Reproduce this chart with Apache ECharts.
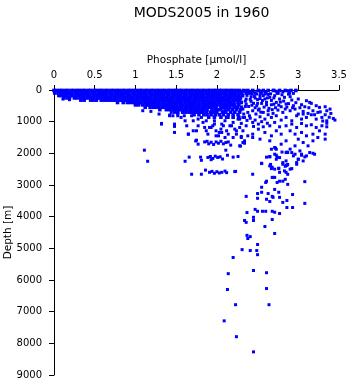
<!DOCTYPE html>
<html>
<head>
<meta charset="utf-8">
<script src="https://cdn.jsdelivr.net/npm/echarts@6/dist/echarts.min.js"></script>
<style>
  html, body { margin: 0; padding: 0; background: #fff; }
  #chart { width: 350px; height: 384px; }
</style>
</head>
<body>
<div id="chart"></div>
<script>
// Phosphate profiles, 1960 casts (MODS2005). Phosphate in µmol/l, depth in m.

// Densely sampled upper layer: one list of phosphate readings per depth level
const layerDepths = [15, 95, 175, 250, 320, 395, 470, 545, 620, 700, 780, 860];
const layerPhosphate = [
  [0.00,0.03,0.07,0.10,0.14,0.17,0.21,0.24,0.28,0.31,0.35,0.38,0.42,0.45,0.49,0.52,0.56,0.59,0.63,0.66,0.70,0.73,0.77,0.80,0.84,0.87,0.91,0.94,0.98,1.01,1.05,1.08,1.12,1.15,1.19,1.22,1.26,1.29,1.33,1.36,1.40,1.43,1.47,1.50,1.54,1.57,1.61,1.64,1.68,1.71,1.75,1.78,1.82,1.85,1.89,1.92,1.96,1.99,2.03,2.06,2.10,2.13,2.17,2.20,2.24,2.28,2.33,2.38,2.44,2.51,2.57,2.63,2.70,2.77,2.84,2.91,2.97],
  [0.01,0.05,0.08,0.12,0.15,0.19,0.22,0.26,0.29,0.33,0.36,0.40,0.43,0.47,0.50,0.54,0.57,0.61,0.64,0.68,0.71,0.75,0.78,0.82,0.85,0.89,0.92,0.96,0.99,1.03,1.06,1.10,1.13,1.17,1.20,1.24,1.27,1.31,1.34,1.38,1.41,1.45,1.48,1.52,1.55,1.59,1.62,1.66,1.69,1.73,1.76,1.80,1.83,1.87,1.90,1.94,1.97,2.01,2.04,2.08,2.11,2.15,2.18,2.22,2.26,2.30,2.36,2.41,2.47,2.54,2.60,2.75,2.89],
  [0.06,0.09,0.13,0.16,0.20,0.23,0.27,0.30,0.34,0.37,0.41,0.44,0.48,0.51,0.55,0.58,0.62,0.65,0.69,0.72,0.76,0.79,0.83,0.86,0.90,0.93,0.97,1.00,1.04,1.07,1.11,1.14,1.18,1.21,1.25,1.28,1.32,1.35,1.39,1.42,1.46,1.49,1.53,1.56,1.60,1.63,1.67,1.70,1.74,1.77,1.81,1.84,1.88,1.91,1.95,1.98,2.02,2.05,2.09,2.12,2.16,2.19,2.23,2.27,2.31],
  [0.12,0.16,0.19,0.25,0.28,0.32,0.35,0.39,0.42,0.46,0.49,0.53,0.56,0.60,0.63,0.67,0.70,0.74,0.77,0.81,0.84,0.88,0.91,0.95,0.98,1.02,1.05,1.09,1.12,1.16,1.19,1.23,1.26,1.30,1.33,1.37,1.40,1.44,1.47,1.51,1.54,1.58,1.61,1.65,1.68,1.72,1.75,1.79,1.82,1.86,1.89,1.93,1.96,2.00,2.03,2.07,2.10,2.14,2.17,2.21,2.25,2.29],
  [0.33,0.37,0.45,0.48,0.52,0.58,0.62,0.66,0.69,0.73,0.76,0.80,0.83,0.87,0.90,0.94,0.97,1.01,1.04,1.08,1.11,1.15,1.18,1.22,1.25,1.29,1.32,1.36,1.39,1.43,1.46,1.50,1.53,1.57,1.60,1.64,1.67,1.71,1.74,1.78,1.81,1.85,1.88,1.92,1.95,1.99,2.02,2.06,2.09,2.13,2.16,2.20,2.24,2.28],
  [0.78,0.85,0.90,0.94,0.98,1.01,1.05,1.08,1.12,1.15,1.19,1.22,1.26,1.29,1.33,1.36,1.40,1.43,1.47,1.50,1.54,1.57,1.61,1.64,1.68,1.71,1.75,1.78,1.82,1.85,1.89,1.92,1.96,1.99,2.03,2.06,2.10,2.13,2.17,2.21,2.26,2.30],
  [1.00,1.04,1.09,1.13,1.16,1.20,1.23,1.27,1.30,1.34,1.37,1.41,1.44,1.48,1.51,1.55,1.58,1.62,1.65,1.69,1.72,1.76,1.79,1.83,1.86,1.90,1.93,1.97,2.00,2.04,2.07,2.11,2.14,2.18,2.22,2.27],
  [1.12,1.18,1.22,1.26,1.29,1.33,1.36,1.40,1.43,1.47,1.50,1.54,1.57,1.61,1.64,1.68,1.71,1.75,1.78,1.82,1.85,1.89,1.92,1.96,1.99,2.05,2.08,2.12,2.16,2.21,2.25,2.30],
  [1.30,1.38,1.42,1.46,1.49,1.53,1.56,1.60,1.63,1.67,1.70,1.74,1.77,1.81,1.84,1.88,1.94,1.98,2.01,2.05,2.10,2.14,2.19,2.24,2.29],
  [1.52,1.58,1.62,1.66,1.69,1.73,1.76,1.80,1.83,1.87,1.92,1.96,2.00,2.07,2.11,2.17,2.22,2.28],
  [1.72,1.78,1.84,1.88,1.93,1.98,2.03,2.08,2.14,2.20,2.26],
  [1.90,1.97,2.05,2.12,2.20,2.27]
];

// Scattered readings below the dense layer, low/mid phosphate [phosphate, depth]
const upperScatter = [
  [0.11,285],[0.19,306],[1.09,654],[1.19,675],[1.29,760],[1.32,1077],[1.42,813],[1.48,707],
  [1.48,1098],[1.48,1150],[1.48,1340],[1.52,813],[1.11,1900],[1.15,2250],
  [1.42,792],[1.32,1056],[1.48,1077],[1.63,1130],[1.65,1394],[1.56,866],[1.71,972],[1.75,1288],
  [1.75,1584],[1.77,1130],[1.81,866],[1.83,1024],[1.87,972],[1.89,1394],[1.93,1183],[1.99,1288],
  [2.06,1341],[2.14,1394],[2.16,1130],[2.20,1024],[2.22,1235],[2.28,1183],[2.30,1500],[1.97,972],
  [2.06,1077],[2.14,866],[2.26,919],[2.32,866],[2.02,1447],[2.10,1500],[2.24,1394],[2.20,1500],
  [1.61,972],[1.69,813],[1.44,707],[1.46,813],[1.52,760],[1.60,813],[1.65,1393],[1.71,1288],
  [1.77,918],[1.85,1182],[1.87,1288],[1.91,1182],[1.95,1129],[1.97,1076],[1.99,1446],[2.03,1341],
  [2.05,1235],[2.08,1129],[2.10,971],[2.12,1288],[2.18,1129],[2.24,1288],[2.30,1467],[2.34,1605]
];

// High-phosphate readings, upper 2000 m [phosphate, depth]
const highScatter = [
  [2.30,74],[2.34,21],[2.38,106],[2.44,42],[2.49,127],[2.55,74],[2.59,127],[2.69,10],[2.87,21],[2.94,106],
  [2.28,232],[2.32,180],[2.36,285],[2.42,211],[2.47,254],[2.53,180],[2.59,285],[2.65,232],[2.71,180],
  [2.77,285],[2.83,232],[2.90,211],[2.92,317],[3.00,285],[3.10,338],[3.14,391],
  [2.30,391],[2.36,444],[2.42,359],[2.49,496],[2.55,422],[2.61,391],[2.67,465],[2.73,391],[2.79,528],
  [2.85,444],[2.94,496],[3.04,465],[3.08,528],[3.16,422],[3.22,496],[3.26,549],[3.33,528],[3.39,602],
  [2.32,602],[2.38,708],[2.44,655],[2.51,634],[2.57,708],[2.63,655],[2.69,739],[2.75,634],[2.81,708],
  [2.90,655],[2.96,602],[3.00,760],[3.06,676],[3.12,739],[3.18,655],[3.24,708],[3.33,782],[3.35,655],[3.43,898],
  [2.28,919],[2.34,866],[2.40,813],[2.47,950],[2.53,845],[2.59,919],[2.67,866],[2.73,813],[2.79,950],
  [2.85,866],[2.92,972],[2.98,813],[3.04,919],[3.10,866],[3.16,782],[3.22,919],[3.29,866],[3.35,972],[3.45,950],
  [2.30,1056],[2.36,1130],[2.44,1024],[2.51,1077],[2.57,1162],[2.65,1130],[2.71,1024],[2.77,1162],
  [2.85,1130],[2.92,1077],[2.98,1183],[3.04,1056],[3.10,1130],[3.16,1098],[3.22,1183],[3.29,1130],[3.35,1162],
  [2.32,1288],[2.38,1447],[2.44,1394],[2.51,1236],[2.59,1341],[2.67,1447],[2.73,1288],[2.79,1394],
  [2.90,1288],[2.96,1394],[3.04,1341],[3.10,1447],[3.18,1394],[3.26,1288],[3.33,1394],
  [2.28,1764],[2.32,1658],[2.44,1500],[2.53,1552],[2.65,1605],[2.71,1816],[2.79,1711],[2.85,1605],
  [2.90,1869],[2.96,1764],[3.00,1552],[3.06,1658],[3.12,1764],[3.18,1605],[3.24,1500],[3.33,1552],
  [2.31,130],[2.35,350],[2.39,520],[2.40,60],[2.45,420],[2.47,560],[2.50,300],[2.52,20],[2.56,330],
  [2.58,540],[2.60,60],[2.62,250],[2.64,580],[2.66,120],[2.70,450],[2.72,560],[2.74,100],[2.76,480],
  [2.80,150],[2.82,350],[2.84,600],[2.88,130],[2.86,540],[2.33,760],[2.41,890],[2.48,760],[2.54,700],
  [2.63,780],[2.68,620],[2.37,960],[2.45,1150],[2.55,1000],[2.62,1050],[2.88,430],[2.93,560],[2.97,400],
  [3.02,560],[3.06,760],[3.13,560],[3.20,780],[3.27,690],[3.30,980],[3.38,860],[3.40,740],[3.35,1050],
  [2.33,40],[2.37,170],[2.41,300],[2.43,120],[2.46,200],[2.50,420],[2.53,270],[2.57,180],[2.61,470],
  [2.63,140],[2.67,330],[2.70,250],[2.73,40],[2.78,380],[2.81,60],[2.35,520],[2.43,480],[2.52,600]
];

// Intermediate water, 1500-2700 m [phosphate, depth]
const intermediate = [
  [1.74,1610],[1.77,1710],[1.85,1640],[1.88,1620],[1.90,1700],[1.93,1650],[1.96,1720],[1.99,1640],
  [2.02,1680],[2.05,1620],[2.08,1700],[2.11,1660],[2.14,1640],[2.17,1740],[2.11,1900],[2.29,1770],[2.34,1680],
  [1.66,2120],[1.61,2250],[1.80,2120],[1.81,2220],[1.89,2130],[1.92,2100],[1.95,2160],[1.98,2090],
  [2.01,2130],[2.04,2110],[2.07,2180],[1.93,2200],[2.20,2120],[2.26,2100],[2.13,2060],
  [1.69,2660],[1.81,2660],[1.86,2530],[1.91,2600],[1.94,2570],[1.97,2630],[2.00,2580],[2.03,2620],
  [2.06,2600],[2.10,2560],[2.12,2610],[2.23,2570]
];

// Deep profile, 1800 m to the bottom [phosphate, depth]
const deepWater = [
  [2.55,2323],[2.65,2112],[2.73,2059],[2.81,2292],[2.87,1975],[2.94,2080],[3.00,2186],[3.04,2028],
  [3.08,2112],[3.14,1975],[3.20,2028],[2.85,2239],[2.98,2292],
  [2.67,1870],[2.73,1870],[2.85,1976],[2.92,1976],[2.96,2028],[3.02,1923],[3.04,2060],[3.10,2081],
  [3.18,1997],[3.00,2187],[3.06,2240],[2.98,2345],[2.81,2345],[2.77,2134],[2.71,2028],[2.65,2102],
  [2.73,2187],[2.55,2313],[2.65,2398],[2.67,2482],[2.76,2482],[2.85,2377],[2.83,2556],[2.87,2662],
  [2.92,2482],[2.22,2577],[3.08,2894],
  [2.74,2120],[2.72,1840],[2.80,1960],[2.86,1960],[2.61,2120],[2.87,2350],[2.68,2440],[2.84,2410],
  [2.90,2500],[2.77,2600],[2.69,2760],
  [2.44,2660],[2.66,2350],[2.71,2500],[2.76,2470],[2.86,2380],[2.85,2600],[2.84,2820],[2.87,2980],
  [2.61,2880],[2.60,2920],[2.68,2760],[2.71,2760],[2.74,2920],[2.77,2880],[2.81,2880],[2.71,3140],
  [2.76,3230],[2.55,3070],[2.55,3230],[2.63,3270],[2.68,3360],[2.69,3390],[2.50,3270],[2.50,3420],
  [2.61,3450],[2.65,3520],[2.77,3390],[2.86,3490],[2.81,3550],[2.93,3300],[3.08,3580],[2.93,3710],
  [2.86,3710],[2.36,3360],[2.37,3870],[2.47,3770],[2.50,3830],[2.56,3830],[2.60,3830],[2.68,3830],
  [2.71,3860],[2.77,3900],[2.68,4090],[2.45,4020],[2.34,4120],[2.36,4180],[2.59,4310],[2.37,4590],
  [2.41,4630],[2.71,4530],[2.45,4120],[2.38,4690],[2.50,4880],[2.31,5040],[2.41,5070],[2.49,5070],
  [2.50,5200],[2.20,5290],[2.45,5700],[2.61,5770],[2.14,5800],[2.13,6300],[2.61,6270],[2.23,6780],
  [2.64,6780],[2.09,7290],[2.24,7790],[2.45,8270]
];

// Axis ticks
const phosphateTicks = { min: 0, max: 3.5, step: 0.5 };
const depthTicks = { min: 0, max: 9000, step: 1000 };

const layerPoints = [];
layerDepths.forEach((d, i) => {
  layerPhosphate[i].forEach(p => layerPoints.push([p, d]));
});
const scatterPoints = [].concat(upperScatter, highScatter, intermediate, deepWater);

const chart = echarts.init(document.getElementById('chart'), null, { renderer: 'canvas' });
const font = 'DejaVu Sans';
const markColor = '#0000ff';

chart.setOption({
  animation: false,
  backgroundColor: '#ffffff',
  title: {
    text: 'MODS2005 in 1960',
    left: 196.5,
    top: 1,
    textAlign: 'center',
    textStyle: { fontFamily: font, fontSize: 14, fontWeight: 'normal', color: '#000' }
  },
  grid: { left: 54, right: 11, top: 90, bottom: 9, containLabel: false, outerBoundsMode: 'none' },
  xAxis: {
    type: 'value',
    position: 'top',
    min: phosphateTicks.min,
    max: phosphateTicks.max,
    interval: phosphateTicks.step,
    name: 'Phosphate [μmol/l]',
    nameLocation: 'middle',
    nameGap: 24,
    nameMoveOverlap: false,
    nameTextStyle: { fontFamily: font, fontSize: 10.5, color: '#000' },
    axisLine: { show: true, lineStyle: { color: '#000', width: 1 } },
    axisTick: { show: true, length: 5, lineStyle: { color: '#000', width: 1 } },
    axisLabel: { fontFamily: font, fontSize: 10, color: '#000', margin: 10 },
    splitLine: { show: false }
  },
  yAxis: {
    type: 'value',
    inverse: true,
    min: depthTicks.min,
    max: depthTicks.max,
    interval: depthTicks.step,
    name: 'Depth [m]',
    nameLocation: 'middle',
    nameGap: 40,
    nameMoveOverlap: false,
    nameTextStyle: { fontFamily: font, fontSize: 10.5, color: '#000' },
    axisLine: { show: true, lineStyle: { color: '#000', width: 1 } },
    axisTick: { show: true, length: 5, lineStyle: { color: '#000', width: 1 } },
    axisLabel: { fontFamily: font, fontSize: 10, color: '#000', margin: 12,
      formatter: v => String(v) },
    splitLine: { show: false }
  },
  series: [{
    type: 'scatter',
    data: layerPoints,
    symbol: 'rect',
    symbolSize: 3.6,
    itemStyle: { color: markColor, opacity: 1 },
    emphasis: { disabled: true },
    silent: true
  }, {
    type: 'scatter',
    data: scatterPoints,
    symbol: 'rect',
    symbolSize: 3,
    itemStyle: { color: markColor, opacity: 1 },
    emphasis: { disabled: true },
    silent: true
  }]
});
</script>
</body>
</html>
